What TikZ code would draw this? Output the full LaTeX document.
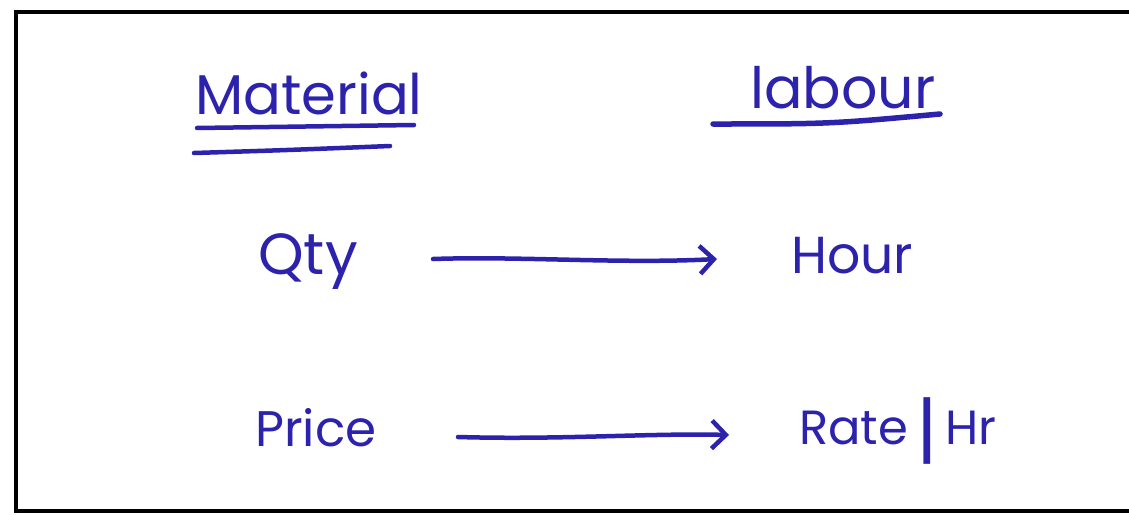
\documentclass[tikz,border=0pt]{standalone}
\usepackage{fontspec}
\setmainfont{Poppins}
\usetikzlibrary{arrows.meta}
\definecolor{ink}{RGB}{44,34,172}
\tikzset{
  word/.style={text=ink, inner sep=0pt, anchor=center},
  stroke/.style={draw=ink, line width=4.5pt, line cap=round, line join=round},
  pointer/.style={stroke, -{Straight Barb[length=14pt,width=28pt,line width=4.5pt]}},
}
\begin{document}
\begin{tikzpicture}[x=1pt,y=-1pt]
  \useasboundingbox (0,0) rectangle (1129,514);
  % frame (its right side runs off the page)
  \draw[line width=4pt] (1140,12) -- (16,12) -- (16,511) -- (1140,511);

  % headings
  \node[word, font=\fontsize{56}{56}\selectfont] (mat) at (309,93) {Material};
  \node[word, font=\fontsize{57}{57}\selectfont] (lab) at (843,88) {labour};
  \coordinate (m1a) at (197,128); \coordinate (m1b) at (414,125);
  \coordinate (m2a) at (194,153); \coordinate (m2b) at (390,146);
  \coordinate (l1a) at (713,124); \coordinate (l1b) at (940,114);
  \draw[stroke] (m1a) -- (m1b);
  \draw[stroke] (m2a) .. controls (290,150) .. (m2b);
  \draw[stroke, line width=5.5pt] (l1a) .. controls (830,124) .. (l1b);

  % quantity row
  \node[word, font=\fontsize{58}{58}\selectfont] (qty) at (308,262) {Qty};
  \node[word, font=\fontsize{52}{52}\selectfont] (hour) at (852,256) {Hour};
  \coordinate (a1s) at (433,259);
  \coordinate (a1e) at (717,259);
  \draw[pointer] (a1s) .. controls (520,256) and (620,264) .. (a1e);

  % price row
  \node[word, font=\fontsize{50}{50}\selectfont] (price) at (316,428) {Price};
  \node[word, font=\fontsize{48}{48}\selectfont] (rate) at (898,431)
    {Rate\,{\fontsize{74}{74}\selectfont\raisebox{-12pt}{|}}\,Hr};
  \coordinate (a2s) at (458,437);
  \coordinate (a2e) at (729,435);
  \draw[pointer] (a2s) .. controls (560,440) and (650,433) .. (a2e);
\end{tikzpicture}
\end{document}
